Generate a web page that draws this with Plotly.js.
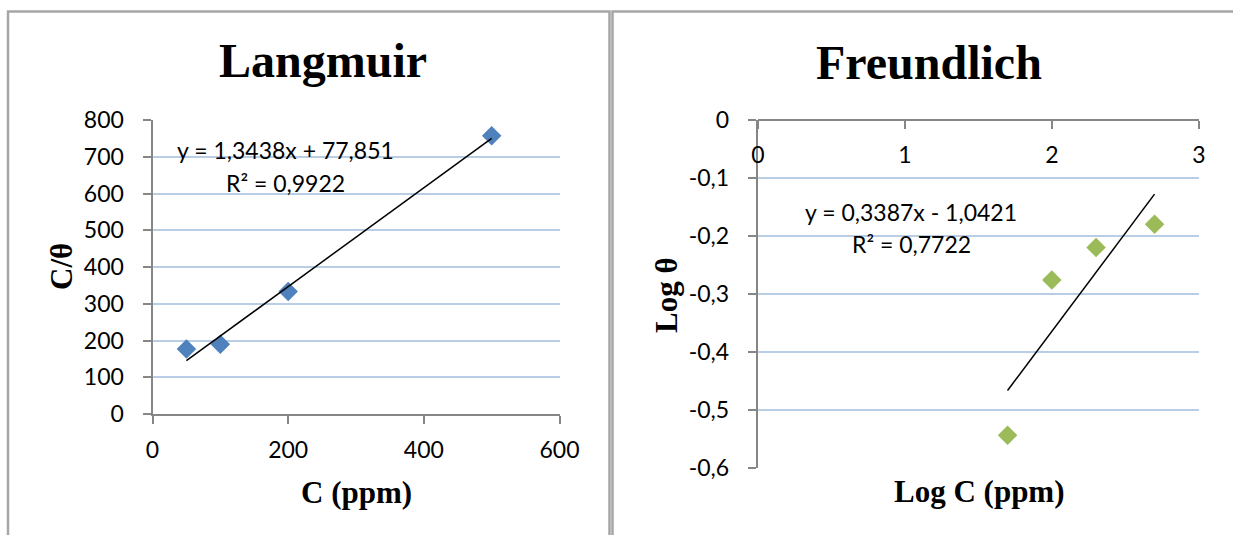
<!DOCTYPE html>
<html>
<head>
<meta charset="utf-8">
<script src="https://cdn.plot.ly/plotly-3.0.1.min.js"></script>
<style>html,body{margin:0;padding:0;background:#fff;}#chart{width:1233px;height:535px;}</style>
</head>
<body>
<div id="chart"></div>
<script>
// Langmuir data
const langC = [50, 100, 200, 500];
const langCTheta = [177, 190, 333, 757];
const langTrendX = [50, 500];
const langTrendY = [145, 750];
const langXTicks = [0, 200, 400, 600];
const langXTickLabels = ['0', '200', '400', '600'];
const langYTicks = [0, 100, 200, 300, 400, 500, 600, 700, 800];
const langYTickLabels = ['0', '100', '200', '300', '400', '500', '600', '700', '800'];
const langEq = 'y = 1,3438x + 77,851';
const langR2 = 'R² = 0,9922';

// Freundlich data
const freLogC = [1.699, 2.0, 2.301, 2.699];
const freLogTheta = [-0.544, -0.276, -0.220, -0.180];
const freTrendX = [1.699, 2.699];
const freTrendY = [-0.467, -0.128];
const freXTicks = [0, 1, 2, 3];
const freXTickLabels = ['0', '1', '2', '3'];
const freYTicks = [0, -0.1, -0.2, -0.3, -0.4, -0.5, -0.6];
const freYTickLabels = ['0', '-0,1', '-0,2', '-0,3', '-0,4', '-0,5', '-0,6'];
const freEq = 'y = 0,3387x - 1,0421';
const freR2 = 'R² = 0,7722';

const W = 1233, H = 535;
const px = x => x / W;
const py = y => 1 - y / H;

const tickFont = {family: 'Lato, "Open Sans", sans-serif', size: 23, color: '#000'};
const serifBold = {family: '"Liberation Serif", "Times New Roman", serif', color: '#000'};
const axisGray = '#868686';
const gridBlue = '#b9cde5';

const traces = [
  {x: langC, y: langCTheta, type: 'scatter', mode: 'markers', xaxis: 'x', yaxis: 'y',
   marker: {symbol: 'diamond', size: 15, color: '#4f81bd', line: {width: 0}}},
  {x: langTrendX, y: langTrendY, type: 'scatter', mode: 'lines', xaxis: 'x', yaxis: 'y',
   line: {color: '#000', width: 1.5}},
  {x: freLogC, y: freLogTheta, type: 'scatter', mode: 'markers', xaxis: 'x2', yaxis: 'y2',
   marker: {symbol: 'diamond', size: 15, color: '#9bbb59', line: {width: 0}}},
  {x: freTrendX, y: freTrendY, type: 'scatter', mode: 'lines', xaxis: 'x2', yaxis: 'y2',
   line: {color: '#000', width: 1.5}}
];

const layout = {
  width: W, height: H,
  margin: {l: 0, r: 0, t: 0, b: 0},
  paper_bgcolor: '#fff', plot_bgcolor: 'rgba(0,0,0,0)',
  showlegend: false,
  font: tickFont,
  xaxis: {
    domain: [px(152.5), px(559.5)], anchor: 'y', range: [0, 600],
    tickvals: langXTicks, ticktext: langXTickLabels,
    showgrid: false, zeroline: false, showline: true, linecolor: axisGray, linewidth: 2,
    ticks: 'outside', ticklen: 8, tickwidth: 2, tickcolor: axisGray,
    ticklabelstandoff: 6, tickfont: tickFont, fixedrange: true
  },
  yaxis: {
    domain: [py(414), py(120)], anchor: 'x', range: [0, 800],
    tickvals: langYTicks, ticktext: langYTickLabels,
    showgrid: true, gridcolor: gridBlue, gridwidth: 2, zeroline: false,
    showline: true, linecolor: axisGray, linewidth: 2,
    ticks: 'outside', ticklen: 8, tickwidth: 2, tickcolor: axisGray,
    ticklabelstandoff: 14, tickfont: tickFont, fixedrange: true
  },
  xaxis2: {
    domain: [px(757.8), px(1198.8)], anchor: 'free', position: py(120), side: 'bottom', range: [0, 3],
    tickvals: freXTicks, ticktext: freXTickLabels,
    showgrid: false, zeroline: false, showline: true, linecolor: axisGray, linewidth: 2,
    ticks: 'outside', ticklen: 8, tickwidth: 2, tickcolor: axisGray,
    ticklabelstandoff: 6, tickfont: tickFont, fixedrange: true
  },
  yaxis2: {
    domain: [py(467.6), py(120)], anchor: 'x2', range: [-0.6, 0],
    tickvals: freYTicks, ticktext: freYTickLabels,
    showgrid: true, gridcolor: gridBlue, gridwidth: 2, zeroline: false,
    showline: true, linecolor: axisGray, linewidth: 2,
    ticks: 'outside', ticklen: 8, tickwidth: 2, tickcolor: axisGray,
    ticklabelstandoff: 14, tickfont: tickFont, fixedrange: true
  },
  shapes: [
    {type: 'rect', xref: 'paper', yref: 'paper', x0: px(8), x1: px(609.5), y0: py(540), y1: py(11.5),
     line: {color: '#a6a6a6', width: 2.5}, fillcolor: 'rgba(0,0,0,0)', layer: 'below'},
    {type: 'rect', xref: 'paper', yref: 'paper', x0: px(612.5), x1: px(1240), y0: py(540), y1: py(11.5),
     line: {color: '#a6a6a6', width: 2.5}, fillcolor: 'rgba(0,0,0,0)', layer: 'below'}
  ],
  annotations: [
    {text: '<b>Langmuir</b>', xref: 'paper', yref: 'paper', x: px(322.5), y: py(60), showarrow: false,
     xanchor: 'center', yanchor: 'middle', font: Object.assign({size: 48}, serifBold)},
    {text: '<b>Freundlich</b>', xref: 'paper', yref: 'paper', x: px(929), y: py(62), showarrow: false,
     xanchor: 'center', yanchor: 'middle', font: Object.assign({size: 48}, serifBold)},
    {text: '<b>C (ppm)</b>', xref: 'paper', yref: 'paper', x: px(356), y: py(492), showarrow: false,
     xanchor: 'center', yanchor: 'middle', font: Object.assign({size: 31}, serifBold)},
    {text: '<b>C/θ</b>', xref: 'paper', yref: 'paper', x: px(61), y: py(267), showarrow: false,
     textangle: -90, xanchor: 'center', yanchor: 'middle', font: Object.assign({size: 31}, serifBold)},
    {text: '<b>Log C (ppm)</b>', xref: 'paper', yref: 'paper', x: px(979), y: py(491), showarrow: false,
     xanchor: 'center', yanchor: 'middle', font: Object.assign({size: 31}, serifBold)},
    {text: '<b>Log θ</b>', xref: 'paper', yref: 'paper', x: px(666), y: py(295), showarrow: false,
     textangle: -90, xanchor: 'center', yanchor: 'middle', font: Object.assign({size: 31}, serifBold)},
    {text: langEq, xref: 'paper', yref: 'paper', x: px(285.5), y: py(150), showarrow: false,
     xanchor: 'center', yanchor: 'middle', font: tickFont},
    {text: langR2, xref: 'paper', yref: 'paper', x: px(285.5), y: py(183), showarrow: false,
     xanchor: 'center', yanchor: 'middle', font: tickFont},
    {text: freEq, xref: 'paper', yref: 'paper', x: px(911), y: py(212), showarrow: false,
     xanchor: 'center', yanchor: 'middle', font: tickFont},
    {text: freR2, xref: 'paper', yref: 'paper', x: px(911.5), y: py(244), showarrow: false,
     xanchor: 'center', yanchor: 'middle', font: tickFont}
  ]
};

Plotly.newPlot('chart', traces, layout, {displayModeBar: false, staticPlot: true});
</script>
</body>
</html>
